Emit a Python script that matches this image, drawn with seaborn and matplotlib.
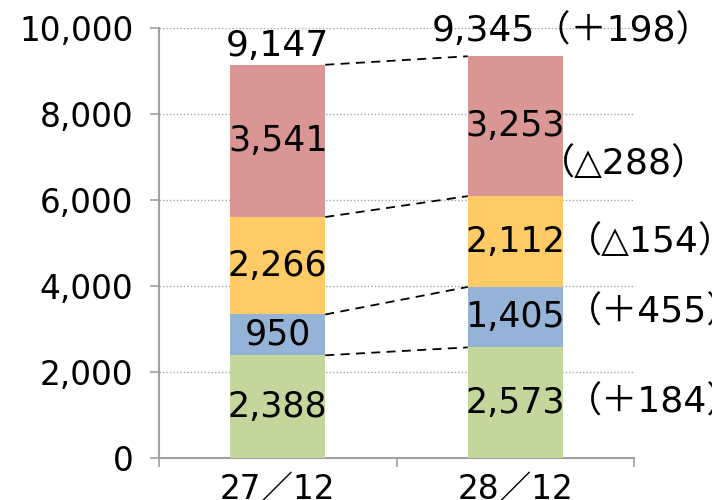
import numpy as np
import pandas as pd
import matplotlib
matplotlib.use("Agg")
import matplotlib.pyplot as plt
import seaborn as sns
from matplotlib.ticker import FuncFormatter, FixedLocator

# ---- data ----
categories = ["27／12", "28／12"]
green_vals = [2388, 2573]
blue_vals = [950, 1405]
yellow_vals = [2266, 2112]
red_vals = [3541, 3253]
totals = [9147, 9345]
total_delta = "（＋198）"
deltas = ["（＋184）", "（＋455）", "（△154）", "（△288）"]
colors = ["#C3D69B", "#95B3D7", "#FFCB66", "#D99694"]

sns.set_theme(style="white")
plt.rcParams["font.family"] = ["DejaVu Sans", "Noto Sans CJK JP"]

fig = plt.figure(figsize=(7.12, 5.0), dpi=100)
ax = fig.add_axes([159 / 712, 42 / 500, 475 / 712, 430 / 500])

layers = [green_vals, blue_vals, yellow_vals, red_vals]
stack = np.cumsum(np.array(layers), axis=0)  # cumulative tops per layer
bottoms = np.vstack([np.zeros(len(categories)), stack[:-1]])

# draw from the top layer down so each visible segment shows its own colour
for i in range(len(layers) - 1, -1, -1):
    df = pd.DataFrame({"cat": categories, "val": stack[i]})
    sns.barplot(data=df, x="cat", y="val", color=colors[i], saturation=1,
                width=0.4, ax=ax, zorder=3, linewidth=0)

half = 0.2
# connector dashed lines
for i in range(len(layers)):
    ax.plot([0 + half, 1 - half], [stack[i][0], stack[i][1]], color="black",
            linestyle=(0, (5, 3.5)), linewidth=1.3, zorder=4)

LBL = 25
# segment labels
for i in range(len(layers)):
    for j in range(len(categories)):
        yc = bottoms[i][j] + layers[i][j] / 2
        ax.text(j, yc, f"{layers[i][j]:,}", ha="center", va="center",
                fontsize=LBL, color="black", zorder=5)

# delta labels to right of bar 2
delta_dx = [2, 2, 2, -17]
delta_dy = [0, 3.5, 0, -27]
for i in range(len(layers)):
    yc = bottoms[i][1] + layers[i][1] / 2
    ax.annotate(deltas[i], xy=(1 + half, yc), xytext=(delta_dx[i], delta_dy[i]),
                textcoords="offset points", ha="left", va="center",
                fontsize=26, color="black", zorder=5, annotation_clip=False)

# totals
ax.annotate(f"{totals[0]:,}", xy=(0, stack[-1][0]), xytext=(0, 6),
            textcoords="offset points", ha="center", va="baseline",
            fontsize=26, color="black", annotation_clip=False)
ax.annotate(f"{totals[1]:,}" + total_delta, xy=(1 - half, stack[-1][1]),
            xytext=(-26, 11), textcoords="offset points", ha="left",
            va="baseline", fontsize=26, color="black", annotation_clip=False)

# axes styling
ax.set_ylim(0, 10000)
ax.set_xlim(-0.5, 1.5)
ax.set_yticks(np.arange(0, 10001, 2000))
ax.yaxis.set_major_formatter(FuncFormatter(lambda v, p: f"{int(v):,}"))
ax.set_xlabel("")
ax.set_ylabel("")
ax.xaxis.set_minor_locator(FixedLocator([-0.5, 0.5, 1.5]))
ax.tick_params(axis="x", which="major", length=0, pad=11, labelsize=23.5)
ax.tick_params(axis="x", which="minor", length=6.5, width=1.2, color="#A0A0A0",
               direction="out", bottom=True)
ax.tick_params(axis="y", which="major", length=6.5, width=1.2, color="#A0A0A0",
               direction="out", left=True, pad=12, labelsize=23.5)
for lab in ax.get_xticklabels() + ax.get_yticklabels():
    lab.set_color("black")

ax.grid(axis="y", color="#A6A6A6", linestyle=(0, (1, 1.5)), linewidth=1.0, zorder=0)
ax.grid(axis="x", visible=False)
for s in ["top", "right"]:
    ax.spines[s].set_visible(False)
for s in ["left", "bottom"]:
    ax.spines[s].set_color("#A0A0A0")
    ax.spines[s].set_linewidth(1.5)
ax.set_axisbelow(True)

fig.savefig("out.png", dpi=100)
